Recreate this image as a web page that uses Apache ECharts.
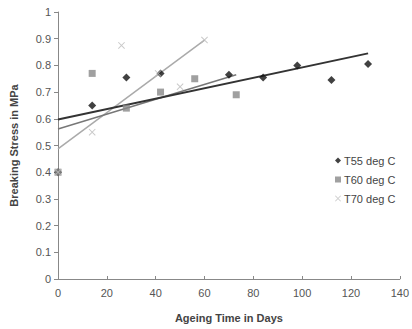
<!DOCTYPE html>
<html>
<head>
<meta charset="utf-8">
<script src="https://cdn.jsdelivr.net/npm/echarts@6/dist/echarts.min.js"></script>
<style>
  html, body { margin: 0; padding: 0; background: #fff; }
  #chart { width: 412px; height: 329px; }
</style>
</head>
<body>
<div id="chart"></div>
<script>
const t55Points = [[0, 0.40], [14, 0.65], [28, 0.755], [42, 0.77], [70, 0.765], [84, 0.755], [98, 0.80], [112, 0.745], [127, 0.805]]
const t60Points = [[0, 0.40], [14, 0.77], [28, 0.64], [42, 0.70], [56, 0.75], [73, 0.69]]
const t70Points = [[0, 0.40], [14, 0.55], [26, 0.875], [41, 0.77], [50, 0.72], [60, 0.895]]

// linear trend lines, endpoints as seen
const t55Trend = [[0, 0.597], [127, 0.845]]
const t60Trend = [[0, 0.562], [73, 0.765]]
const t70Trend = [[0, 0.487], [60, 0.895]]

const seriesNames = ['T55 deg C', 'T60 deg C', 'T70 deg C']
const xTicks = [0, 140, 20]
const yTicks = [0, 1, 0.1]

const crossPath = 'path://M0,1L1,0L10,9L9,10Z M9,0L10,1L1,10L0,9Z'
const font = 'Liberation Sans, Arial, sans-serif'

const chart = echarts.init(document.getElementById('chart'), null, { renderer: 'svg' })

function trend(data, color, width) {
  return {
    type: 'line',
    data: data,
    symbol: 'none',
    silent: true,
    lineStyle: { color: color, width: width },
    z: 1,
  }
}

chart.setOption({
  animation: false,
  textStyle: { fontFamily: font },
  grid: { left: 53, right: 10, top: 12, bottom: 50 },
  legend: {
    data: seriesNames,
    orient: 'vertical',
    left: 330,
    top: 150,
    itemGap: 8,
    itemWidth: 6,
    itemHeight: 6,
    textStyle: { fontSize: 11, color: '#444', fontFamily: font, padding: [0, 0, 0, -2] },
  },
  xAxis: {
    type: 'value',
    min: xTicks[0],
    max: xTicks[1],
    interval: xTicks[2],
    name: 'Ageing Time in Days',
    nameLocation: 'middle',
    nameGap: 33,
    nameTextStyle: { fontSize: 11, fontWeight: 'bold', color: '#444' },
    axisLine: { lineStyle: { color: '#888', width: 1 } },
    axisTick: { inside: true, length: 3, lineStyle: { color: '#888' } },
    axisLabel: { fontSize: 11, color: '#555', margin: 8 },
    splitLine: { show: false },
  },
  yAxis: {
    type: 'value',
    min: yTicks[0],
    max: yTicks[1],
    interval: yTicks[2],
    name: 'Breaking Stress in MPa',
    nameLocation: 'middle',
    nameGap: 39,
    nameTextStyle: { fontSize: 11, fontWeight: 'bold', color: '#444' },
    axisLine: { show: true, lineStyle: { color: '#888', width: 1 } },
    axisTick: { show: true, length: 4, lineStyle: { color: '#888' } },
    axisLabel: { fontSize: 11, color: '#555', margin: 7 },
    splitLine: { show: false },
  },
  series: [
    trend(t70Trend, '#aaa', 1.5),
    trend(t60Trend, '#777', 1.5),
    trend(t55Trend, '#333', 2),
    {
      name: seriesNames[0],
      type: 'scatter',
      data: t55Points,
      symbol: 'diamond',
      symbolSize: 8,
      itemStyle: { color: '#111' },
      z: 3,
    },
    {
      name: seriesNames[1],
      type: 'scatter',
      data: t60Points,
      symbol: 'rect',
      symbolSize: 7,
      itemStyle: { color: '#888' },
      z: 3,
    },
    {
      name: seriesNames[2],
      type: 'scatter',
      data: t70Points,
      symbol: crossPath,
      symbolSize: 7,
      itemStyle: { color: '#bbb' },
      z: 3,
    },
  ],
})
</script>
</body>
</html>
